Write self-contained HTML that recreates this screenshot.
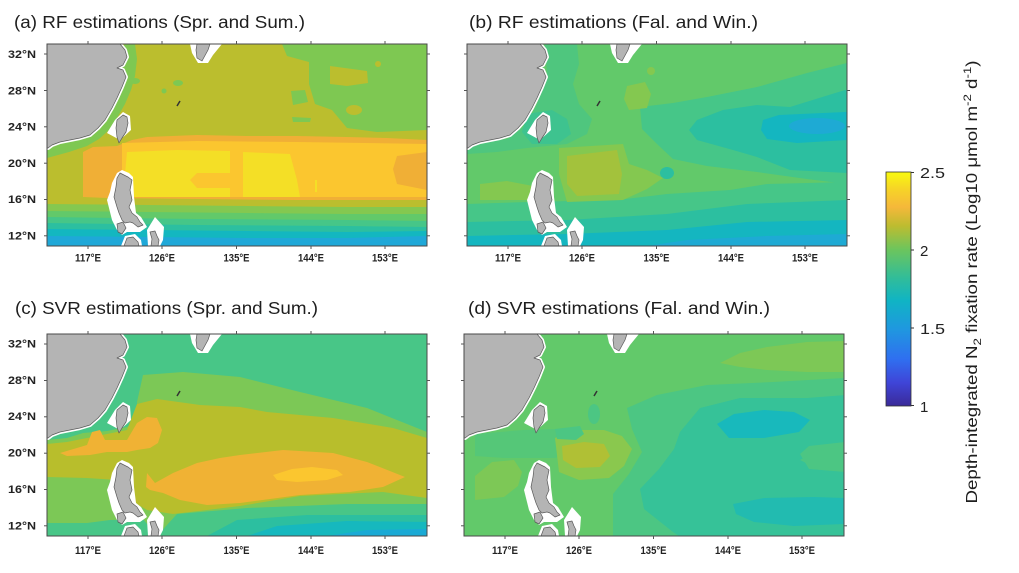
<!DOCTYPE html>
<html><head><meta charset="utf-8"><style>
html,body{margin:0;padding:0;background:#fff;}
svg{display:block;}
text{font-family:"Liberation Sans",Arial,sans-serif;}
</style></head><body>
<svg width="1019" height="573" viewBox="0 0 1019 573" xmlns="http://www.w3.org/2000/svg">
<defs>
<clipPath id="clp"><rect x="0" y="0" width="380" height="202"/></clipPath>
<linearGradient id="cb" x1="0" y1="1" x2="0" y2="0">
<stop offset="0" stop-color="#3a2a98"/>
<stop offset="0.1" stop-color="#3f45d8"/>
<stop offset="0.2" stop-color="#2f6ff0"/>
<stop offset="0.33" stop-color="#1f98df"/>
<stop offset="0.45" stop-color="#10b4c4"/>
<stop offset="0.55" stop-color="#32bd98"/>
<stop offset="0.67" stop-color="#6dc55c"/>
<stop offset="0.77" stop-color="#bdbc30"/>
<stop offset="0.85" stop-color="#f5b83a"/>
<stop offset="0.93" stop-color="#f6d526"/>
<stop offset="1" stop-color="#f8fa0f"/>
</linearGradient>
<g id="land">
<path d="M0,0 L73,0 L78,6 L80,13 L76,21 L70,24 L76,26 L79,33 L75,43 L70,54 L65,64 L58,76 L51,84 L43,91 L33,94 L23,96 L13,98 L5,101 L1,104 L0,104 Z" fill="#fff" stroke="#fff" stroke-width="4" stroke-linejoin="round"/>
<path d="M76,68 L83,72 L84,86 L73,96 L60,89 L68,76 Z" fill="#fff"/>
<path d="M75,126 L82,129 L86,133 L87,153 L89,169 L94,173 L100,183 L93,188 L80,188 L75,191 L70,186 L65,176 L60,156 L63,148 L65,139 L70,129 Z" fill="#fff"/>
<path d="M108,173 L117,183 L116,196 L113,202 L101,202 L100,186 Z" fill="#fff"/>
<path d="M74,202 L78,192 L88,190 L94,196 L95,202 Z" fill="#fff"/>
<path d="M143,0 L175,0 L166,11 L161,19 L151,19 L145,9 Z" fill="#fff"/>
<g fill="#b4b4b4" stroke="#5a5a5a" stroke-width="0.7" stroke-linejoin="round">
<path d="M0,0 L73,0 L78,6 L80,13 L76,21 L70,24 L76,26 L79,33 L75,43 L70,54 L65,64 L58,76 L51,84 L43,91 L33,94 L23,96 L13,98 L5,101 L1,104 L0,104 Z"/>
<path d="M76,71 L80,73 L81,79 L79,88 L75,94 L72,99 L70,93 L69,84 L70,76 Z"/>
<path d="M73,129 L81,133 L85,136 L83,146 L85,156 L82,163 L85,169 L90,173 L93,178 L96,181 L91,183 L86,179 L83,178 L78,179 L75,176 L72,169 L70,163 L67,153 L69,143 L70,134 Z"/>
<path d="M70,180 L76,178 L79,184 L75,190 L71,188 Z"/>
<path d="M77,202 L80,194 L86,193 L91,198 L92,202 Z"/>
<path d="M103,188 L108,187 L110,192 L112,196 L111,202 L104,202 L105,195 Z"/>
<path d="M150,0 L163,0 L161,6 L155,17 L150,14 L149,6 Z"/>
</g>
<line x1="130" y1="62" x2="133" y2="57" stroke="#333" stroke-width="1.5"/>
</g>
<g id="frame">
<rect x="0" y="0" width="380" height="202" fill="none" stroke="#4a4a4a" stroke-width="1"/>
<g stroke="#555" stroke-width="1">
<line x1="41" y1="0" x2="41" y2="-3"/><line x1="115" y1="0" x2="115" y2="-3"/><line x1="189.5" y1="0" x2="189.5" y2="-3"/><line x1="264" y1="0" x2="264" y2="-3"/><line x1="338" y1="0" x2="338" y2="-3"/>
<line x1="41" y1="202" x2="41" y2="205"/><line x1="115" y1="202" x2="115" y2="205"/><line x1="189.5" y1="202" x2="189.5" y2="205"/><line x1="264" y1="202" x2="264" y2="205"/><line x1="338" y1="202" x2="338" y2="205"/>
<line x1="0" y1="10" x2="-3" y2="10"/><line x1="0" y1="46.5" x2="-3" y2="46.5"/><line x1="0" y1="82.8" x2="-3" y2="82.8"/><line x1="0" y1="119.2" x2="-3" y2="119.2"/><line x1="0" y1="155.5" x2="-3" y2="155.5"/><line x1="0" y1="191.8" x2="-3" y2="191.8"/>
<line x1="380" y1="10" x2="383" y2="10"/><line x1="380" y1="46.5" x2="383" y2="46.5"/><line x1="380" y1="82.8" x2="383" y2="82.8"/><line x1="380" y1="119.2" x2="383" y2="119.2"/><line x1="380" y1="155.5" x2="383" y2="155.5"/><line x1="380" y1="191.8" x2="383" y2="191.8"/>
</g>
</g>
</defs>

<!-- Titles -->
<g fill="#1e1e1e" font-size="17.5">
<text x="14" y="28" textLength="291" lengthAdjust="spacingAndGlyphs">(a) RF estimations (Spr. and Sum.)</text>
<text x="469" y="28" textLength="289" lengthAdjust="spacingAndGlyphs">(b) RF estimations (Fal. and Win.)</text>
<text x="15" y="314" textLength="303" lengthAdjust="spacingAndGlyphs">(c) SVR estimations (Spr. and Sum.)</text>
<text x="468" y="314" textLength="302" lengthAdjust="spacingAndGlyphs">(d) SVR estimations (Fal. and Win.)</text>
</g>

<!-- Panel A -->
<g transform="translate(47,44)">
<g clip-path="url(#clp)">
<rect x="0" y="0" width="380" height="202" fill="#bbbe2e"/>
<g fill="#7ec852">
<path d="M235,0 L380,0 L380,86 L330,88 L300,84 L285,66 L268,60 L262,40 L262,18 L240,12 Z"/>
<path d="M244,47 L258,46 L261,58 L246,61 Z"/>
<path d="M245,73 L264,74 L263,78 L246,78 Z"/>
<ellipse cx="88" cy="37" rx="5" ry="3"/>
<ellipse cx="131" cy="39" rx="5" ry="3"/>
<ellipse cx="117" cy="47" rx="2.5" ry="2.5"/>
<path d="M78,0 L88,0 L90,15 L88,32 L84,46 L78,60 L70,74 L62,86 L52,95 L40,102 L22,108 L0,114 L0,100 Z"/>
</g>
<g fill="#bbbe2e">
<path d="M283,22 L320,27 L321,39 L300,42 L283,40 Z"/>
<ellipse cx="307" cy="66" rx="8" ry="5"/>
<ellipse cx="331" cy="20" rx="3" ry="3"/>
</g>
<path d="M36,108 L46,103 L70,102 L85,96 L100,93 L150,91 L200,92 L250,92 L300,93 L340,94 L380,96 L380,156 L330,156 L250,156 L150,155 L60,154 L36,153 Z" fill="#f0af36"/>
<path d="M75,99 L150,97 L250,98 L380,100 L380,108 L350,112 L346,125 L350,140 L380,146 L380,153 L75,153 Z" fill="#fbc62f"/>
<g fill="#f4df26">
<path d="M80,108 L130,106 L183,107 L183,129 L150,129 L143,136 L150,144 L183,144 L183,153 L80,153 L78,130 Z"/>
<path d="M196,108 L243,110 L250,136 L253,153 L196,153 Z"/>
<rect x="268" y="136" width="2" height="12"/>
</g>
<path d="M0,160 L100,161 L200,162 L300,163 L380,163 L380,202 L0,202 Z" fill="#84c850"/>
<path d="M0,167 L100,168 L200,169 L300,170 L380,170 L380,202 L0,202 Z" fill="#62c96a"/>
<path d="M0,173 L150,175 L300,176 L380,177 L380,202 L0,202 Z" fill="#46c688"/>
<path d="M0,179 L150,181 L300,182 L380,183 L380,202 L0,202 Z" fill="#2cbfa0"/>
<path d="M0,185 L100,186 L200,187 L300,188 L380,187 L380,202 L0,202 Z" fill="#13b7c0"/>
<path d="M0,192 L100,193 L200,194 L300,194 L380,192 L380,202 L0,202 Z" fill="#1fa8d8"/>
<use href="#land"/>
</g>
<use href="#frame"/>
</g>

<!-- Panel B -->
<g transform="translate(467,44)">
<g clip-path="url(#clp)">
<rect x="0" y="0" width="380" height="202" fill="#62c96a"/>
<path d="M78,0 L110,0 L112,20 L106,40 L112,60 L125,75 L120,90 L100,100 L60,104 L30,108 L0,110 L0,100 L40,95 L60,80 L70,60 L80,30 Z" fill="#4fc67e"/>
<path d="M60,70 L85,66 L100,75 L104,90 L90,100 L65,100 L55,88 Z" fill="#3ec38f"/>
<path d="M173,63 L206,59 L240,53 L290,43 L340,29 L380,19 L380,140 L340,135 L290,128 L240,122 L206,115 L190,100 L175,85 Z" fill="#46c688"/>
<path d="M0,160 L60,158 L150,156 L200,150 L263,146 L300,140 L380,138 L380,202 L0,202 Z" fill="#46c688"/>
<path d="M230,76 L256,66 L290,61 L323,63 L378,46 L380,46 L380,129 L323,126 L290,113 L266,106 L230,96 L222,86 Z" fill="#2cbfa0"/>
<ellipse cx="200" cy="129" rx="7" ry="6" fill="#2cbfa0"/>
<path d="M0,178 L100,176 L200,170 L280,160 L380,156 L380,202 L0,202 Z" fill="#2cbfa0"/>
<path d="M296,76 L312,71 L378,68 L380,68 L380,96 L330,99 L300,95 L294,86 Z" fill="#14b6c0"/>
<path d="M0,192 L100,190 L200,186 L280,178 L380,176 L380,202 L0,202 Z" fill="#14b6c0"/>
<ellipse cx="350" cy="82" rx="28" ry="8" fill="#1eaad4"/>
<path d="M180,202 L220,196 L300,192 L380,190 L380,202 Z" fill="#1eaad4"/>
<g fill="#84c850">
<path d="M160,42 L178,38 L184,50 L180,64 L162,66 L157,55 Z"/>
<ellipse cx="184" cy="27" rx="4" ry="4"/>
<path d="M92,104 L156,100 L162,120 L180,126 L196,134 L180,145 L156,156 L100,158 L92,130 Z"/>
<path d="M13,140 L40,137 L66,142 L66,156 L13,156 Z"/>
</g>
<path d="M100,112 L150,106 L155,130 L152,150 L110,152 L100,140 Z" fill="#a3c23c"/>
<use href="#land"/>
</g>
<use href="#frame"/>
</g>

<!-- Panel C -->
<g transform="translate(47,334)">
<g clip-path="url(#clp)">
<rect x="0" y="0" width="380" height="202" fill="#48c687"/>
<path d="M96,41 L136,38 L193,43 L253,58 L320,74 L380,98 L380,202 L0,202 L0,106 L20,104 L36,99 L60,97 L80,93 L90,85 L90,68 Z" fill="#7cc856"/>
<path d="M90,70 L110,65 L153,71 L193,73 L220,78 L286,84 L346,94 L380,104 L380,164 L336,158 L253,162 L193,172 L160,176 L126,180 L100,176 L90,170 L70,146 L40,144 L0,143 L0,110 L20,108 L40,104 L60,100 L80,96 Z" fill="#b8be2c"/>
<path d="M13,119 L40,111 L45,98 L53,96 L58,106 L80,106 L90,89 L100,83 L110,84 L115,96 L111,109 L103,114 L90,116 L80,118 L60,118 L43,121 L20,122 Z" fill="#f0b234"/>
<path d="M100,139 L108,149 L126,139 L150,129 L173,124 L193,121 L236,116 L286,119 L320,128 L358,143 L336,153 L303,158 L253,161 L193,169 L160,171 L133,166 L116,159 L103,156 L99,153 Z" fill="#f0b234"/>
<path d="M226,141 L245,135 L265,133 L290,136 L296,141 L280,146 L250,148 L230,146 Z" fill="#fbc62f"/>
<path d="M110,202 L130,180 L200,174 L300,170 L380,170 L380,202 Z" fill="#48c687"/>
<path d="M0,189 L40,189 L63,186 L96,185 L110,202 L0,202 Z" fill="#48c687"/>
<path d="M160,202 L190,186 L260,181 L380,181 L380,202 Z" fill="#2cbfa0"/>
<path d="M200,202 L230,192 L300,187 L380,188 L380,202 Z" fill="#16b8be"/>
<path d="M280,202 L320,196 L380,195 L380,202 Z" fill="#1aaad5"/>
<use href="#land"/>
</g>
<use href="#frame"/>
</g>

<!-- Panel D -->
<g transform="translate(464,334)">
<g clip-path="url(#clp)">
<rect x="0" y="0" width="380" height="202" fill="#62c96a"/>
<path d="M256,29 L276,19 L303,13 L343,8 L381,7 L381,38 L343,38 L303,36 L276,33 Z" fill="#7dc856"/>
<path d="M11,100 L60,96 L91,95 L118,96 L130,110 L91,124 L40,124 L11,122 Z" fill="#55c778"/>
<path d="M163,74 L193,61 L243,51 L309,48 L381,44 L381,202 L149,202 L149,160 L165,140 L178,118 L168,95 Z" fill="#4cc683"/>
<path d="M216,98 L236,74 L276,64 L343,64 L381,61 L381,108 L345,112 L336,120 L345,135 L381,138 L381,202 L215,202 L209,198 L180,175 L176,155 L195,135 L210,115 Z" fill="#36c298"/>
<path d="M381,112 L350,118 L336,126 L350,133 L381,134 Z" fill="#4cc683"/>
<path d="M253,90 L270,80 L300,76 L330,78 L346,86 L335,98 L300,104 L265,104 Z" fill="#18b9bc"/>
<path d="M269,170 L300,164 L350,163 L381,164 L381,190 L330,192 L290,188 L272,180 Z" fill="#22bbb0"/>
<path d="M91,104 L110,96 L140,96 L158,102 L168,115 L160,132 L145,144 L115,146 L95,138 Z" fill="#8ac84e"/>
<path d="M98,112 L120,108 L140,110 L146,122 L136,133 L112,134 L99,126 Z" fill="#b0c035"/>
<ellipse cx="130" cy="80" rx="6" ry="10" fill="#4cc683"/>
<path d="M91,95 L116,92 L120,100 L112,106 L93,105 Z" fill="#4cc683"/>
<path d="M11,142 L28,128 L50,126 L58,138 L54,152 L40,163 L11,166 Z" fill="#7dc856"/>
<use href="#land"/>
</g>
<use href="#frame"/>
</g>

<!-- Tick labels -->
<g fill="#222" font-size="11" font-weight="bold" text-anchor="end">
<text x="36" y="58" textLength="28" lengthAdjust="spacingAndGlyphs">32°N</text>
<text x="36" y="94.5" textLength="28" lengthAdjust="spacingAndGlyphs">28°N</text>
<text x="36" y="130.5" textLength="28" lengthAdjust="spacingAndGlyphs">24°N</text>
<text x="36" y="167" textLength="28" lengthAdjust="spacingAndGlyphs">20°N</text>
<text x="36" y="203" textLength="28" lengthAdjust="spacingAndGlyphs">16°N</text>
<text x="36" y="239.5" textLength="28" lengthAdjust="spacingAndGlyphs">12°N</text>
<text x="36" y="347.5" textLength="28" lengthAdjust="spacingAndGlyphs">32°N</text>
<text x="36" y="384" textLength="28" lengthAdjust="spacingAndGlyphs">28°N</text>
<text x="36" y="420" textLength="28" lengthAdjust="spacingAndGlyphs">24°N</text>
<text x="36" y="456.5" textLength="28" lengthAdjust="spacingAndGlyphs">20°N</text>
<text x="36" y="493" textLength="28" lengthAdjust="spacingAndGlyphs">16°N</text>
<text x="36" y="529.5" textLength="28" lengthAdjust="spacingAndGlyphs">12°N</text>
</g>
<g fill="#222" font-size="11" font-weight="bold" text-anchor="middle">
<g transform="translate(47,261.5)">
<text x="41" textLength="26" lengthAdjust="spacingAndGlyphs">117°E</text><text x="115" textLength="26" lengthAdjust="spacingAndGlyphs">126°E</text><text x="189.5" textLength="26" lengthAdjust="spacingAndGlyphs">135°E</text><text x="264" textLength="26" lengthAdjust="spacingAndGlyphs">144°E</text><text x="338" textLength="26" lengthAdjust="spacingAndGlyphs">153°E</text>
</g>
<g transform="translate(467,261.5)">
<text x="41" textLength="26" lengthAdjust="spacingAndGlyphs">117°E</text><text x="115" textLength="26" lengthAdjust="spacingAndGlyphs">126°E</text><text x="189.5" textLength="26" lengthAdjust="spacingAndGlyphs">135°E</text><text x="264" textLength="26" lengthAdjust="spacingAndGlyphs">144°E</text><text x="338" textLength="26" lengthAdjust="spacingAndGlyphs">153°E</text>
</g>
<g transform="translate(47,554)">
<text x="41" textLength="26" lengthAdjust="spacingAndGlyphs">117°E</text><text x="115" textLength="26" lengthAdjust="spacingAndGlyphs">126°E</text><text x="189.5" textLength="26" lengthAdjust="spacingAndGlyphs">135°E</text><text x="264" textLength="26" lengthAdjust="spacingAndGlyphs">144°E</text><text x="338" textLength="26" lengthAdjust="spacingAndGlyphs">153°E</text>
</g>
<g transform="translate(464,554)">
<text x="41" textLength="26" lengthAdjust="spacingAndGlyphs">117°E</text><text x="115" textLength="26" lengthAdjust="spacingAndGlyphs">126°E</text><text x="189.5" textLength="26" lengthAdjust="spacingAndGlyphs">135°E</text><text x="264" textLength="26" lengthAdjust="spacingAndGlyphs">144°E</text><text x="338" textLength="26" lengthAdjust="spacingAndGlyphs">153°E</text>
</g>
</g>

<!-- Colorbar -->
<rect x="886" y="172" width="25" height="234" fill="url(#cb)" stroke="#333" stroke-width="0.8"/>
<g stroke="#333" stroke-width="1">
<line x1="911" y1="172.5" x2="914" y2="172.5"/><line x1="911" y1="250" x2="914" y2="250"/><line x1="911" y1="328" x2="914" y2="328"/><line x1="911" y1="405.5" x2="914" y2="405.5"/>
</g>
<g fill="#222" font-size="15">
<text x="920" y="178" textLength="25" lengthAdjust="spacingAndGlyphs">2.5</text>
<text x="920" y="256">2</text>
<text x="920" y="334" textLength="25" lengthAdjust="spacingAndGlyphs">1.5</text>
<text x="920" y="412">1</text>
</g>
<text transform="translate(977,282) rotate(-90)" text-anchor="middle" font-size="15.5" fill="#1e1e1e" textLength="443" lengthAdjust="spacingAndGlyphs">Depth-integrated N<tspan dy="4" font-size="11">2</tspan><tspan dy="-4"> fixation rate (Log10 μmol m</tspan><tspan dy="-6" font-size="11">-2</tspan><tspan dy="6"> d</tspan><tspan dy="-6" font-size="11">-1</tspan><tspan dy="6">)</tspan></text>
</svg>
</body></html>
